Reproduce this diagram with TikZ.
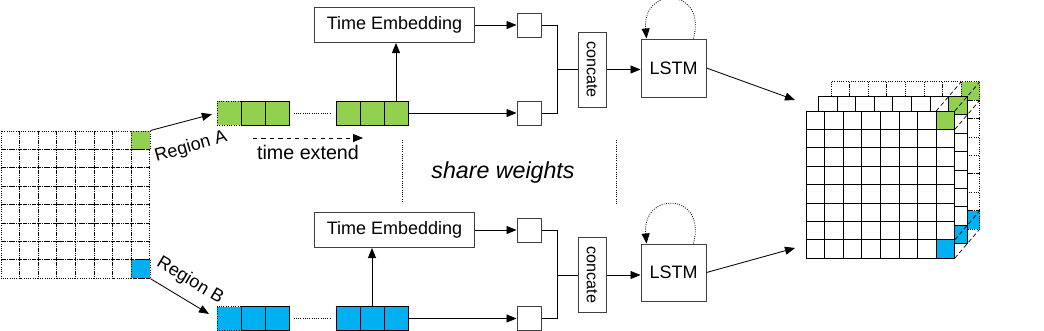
\documentclass[tikz,border=0pt]{standalone}
\usepackage{fontspec}
\setmainfont{Liberation Sans}
\usepackage{xcolor}
\usepackage{tikz}
\usetikzlibrary{arrows.meta,calc,positioning}

\definecolor{cellgreen}{HTML}{92D050}
\definecolor{cellblue}{HTML}{00B0F0}

\begin{document}
\begin{tikzpicture}[
    x=0.025cm, y=-0.025cm,
    every node/.style={font=\fontsize{12.8}{14}\selectfont,align=center},
    box/.style={
        draw=black!75,
        line width=0.7pt,
        fill=white,
        inner sep=0pt
    },
    embed/.style={box, minimum width=3.975cm, minimum height=0.875cm},
    slot/.style={box, minimum size=0.6cm},
    concat/.style={box, minimum width=0.7cm, minimum height=1.875cm},
    lstm/.style={box, minimum width=1.625cm, minimum height=1.45cm},
    cell/.style={draw=black, line width=0.7pt, minimum size=0.6cm, inner sep=0pt},
    gridline/.style={draw=black, line width=0.6pt},
    arrow/.style={-{Triangle[length=2.5mm,width=2mm]},line width=0.6pt},
    link/.style={line width=0.6pt}
]
\useasboundingbox (0,0) rectangle (1044,330);

% Input grid
\foreach \i in {0,...,7}
  \foreach \j in {0,...,7}
    \draw[gridline, densely dotted] ({1+18.6*\i},{131+18.4*\j}) rectangle ++(18.6,18.4);
\node[cell, densely dotted, fill=cellgreen, minimum width=0.465cm, minimum height=0.46cm] (cellA) at (140.7,140.2) {};
\node[cell, densely dotted, fill=cellblue, minimum width=0.465cm, minimum height=0.46cm] (cellB) at (140.7,269.0) {};

% Region sequences
\node[cell, densely dotted, fill=cellgreen] (seqA0) at (229,113) {};
\node[cell, densely dotted, fill=cellblue] (seqB0) at (229,318.5) {};
\foreach \k/\x in {1/253,2/277,3/348,4/372,5/396} {
  \node[cell, fill=cellgreen] (seqA\k) at (\x,113) {};
  \node[cell, fill=cellblue] (seqB\k) at (\x,318.5) {};
}
\draw[link, densely dotted, shorten >=1mm, shorten <=1mm] (seqA2.east) -- (seqA3.west);
\draw[link, densely dotted, shorten >=1mm, shorten <=1mm] (seqB2.east) -- (seqB3.west);

\draw[arrow, shorten >=1.2mm] (cellA.north east) -- (seqA0.west);
\draw[arrow, shorten >=2.2mm] (cellB.south east) -- (seqB0.west);
\node[rotate=16] (labA) at (191,147) {Region A};
\node[rotate=-31] (labB) at (190,281) {Region B};

% Time extend
\coordinate (extA0) at (253,138);
\coordinate (extA1) at (363,138);
\draw[arrow, dashed] (extA0) -- node[midway, below, yshift=-0.6mm, font=\fontsize{14}{16}\selectfont] {time extend} (extA1);

% Upper branch
\node[embed] (teA) at (394.5,25) {Time Embedding};
\node[slot] (inA1) at (529,25) {};
\node[slot] (inA2) at (529,113) {};
\node[concat] (catA) at (592,69.5) {\fontsize{11.5}{13}\selectfont\rotatebox{-90}{concate}};
\node[lstm] (lstmA) at (673.5,68) {LSTM};
\coordinate[left=0.5cm of catA.west] (junA);
\coordinate (outA) at (795,100);

\draw[arrow] (seqA5.north) -- (seqA5.north |- teA.south);
\draw[arrow] (teA.east) -- (inA1.west);
\draw[arrow] (seqA5.east) -- (inA2.west);
\draw[link] (inA1.east) -| (junA) |- (inA2.east);
\draw[link] (junA) -- (catA.west);
\draw[arrow] (catA.east) -- (catA.east -| lstmA.west);
\draw[arrow, densely dotted] ([xshift=-0.325cm]lstmA.north east) to[out=75, in=95, looseness=2.9] ([xshift=0.15cm]lstmA.north west);
\draw[arrow] (lstmA.east) -- (outA);

% Lower branch
\node[embed] (teB) at (394.5,230) {Time Embedding};
\node[slot] (inB1) at (529,230) {};
\node[slot] (inB2) at (529,318.5) {};
\node[concat] (catB) at (592,275) {\fontsize{11.5}{13}\selectfont\rotatebox{-90}{concate}};
\node[lstm, minimum height=1.425cm] (lstmB) at (673.5,272.5) {LSTM};
\coordinate[left=0.5cm of catB.west] (junB);
\coordinate (outB) at (795,248);

\draw[arrow] (seqB4.north) -- (seqB4.north |- teB.south);
\draw[arrow] (teB.east) -- (inB1.west);
\draw[arrow] (seqB5.east) -- (inB2.west);
\draw[link] (inB1.east) -| (junB) |- (inB2.east);
\draw[link] (junB) -- (catB.west);
\draw[arrow] (catB.east) -- (catB.east -| lstmB.west);
\draw[arrow, densely dotted] ([xshift=-0.325cm]lstmB.north east) to[out=75, in=95, looseness=2.9] ([xshift=0.15cm]lstmB.north west);
\draw[arrow] (lstmB.east) -- (outB);

% Shared weights
\coordinate (sepL0) at (402,140);
\coordinate (sepL1) at (402,203);
\coordinate (sepR0) at (616,140);
\coordinate (sepR1) at (616,205);
\draw[link, densely dotted] (sepL0) -- (sepL1);
\draw[link, densely dotted] (sepR0) -- (sepR1);
\node[font=\fontsize{16.5}{18}\selectfont\itshape] (share) at (503,172) {share weights};

% Output grid, back layer
\foreach \i in {0,...,7}
  \foreach \j in {0,...,7}
    \draw[gridline, densely dotted, fill=white] ({831+18.6*\i},{81.8+18.4*\j}) rectangle ++(18.6,18.4);
\draw[gridline, densely dotted, fill=cellgreen] ({831+18.6*7},81.8) rectangle ++(18.6,18.4);
\draw[gridline, densely dotted, fill=cellblue] ({831+18.6*7},{81.8+18.4*7}) rectangle ++(18.6,18.4);

% Output grid, middle layer
\foreach \i in {0,...,7}
  \foreach \j in {0,...,7}
    \draw[gridline, fill=white] ({818.5+18.6*\i},{96.4+18.4*\j}) rectangle ++(18.6,18.4);
\draw[gridline, fill=cellgreen] ({818.5+18.6*7},96.4) rectangle ++(18.6,18.4);
\draw[gridline, fill=cellblue] ({818.5+18.6*7},{96.4+18.4*7}) rectangle ++(18.6,18.4);

% Output grid, front layer
\foreach \i in {0,...,7}
  \foreach \j in {0,...,7}
    \draw[gridline, fill=white] ({806+18.6*\i},{111+18.4*\j}) rectangle ++(18.6,18.4);
\draw[gridline, fill=cellgreen] ({806+18.6*7},111) rectangle ++(18.6,18.4);
\draw[gridline, fill=cellblue] ({806+18.6*7},{111+18.4*7}) rectangle ++(18.6,18.4);

% Depth edges
\foreach \x/\y in {936.2/111,954.8/111,954.8/129.4,954.8/239.8,954.8/258.2}
  \draw[line width=0.5pt, densely dashed] (\x,\y) -- ++(25,-29.2);

\end{tikzpicture}
\end{document}
